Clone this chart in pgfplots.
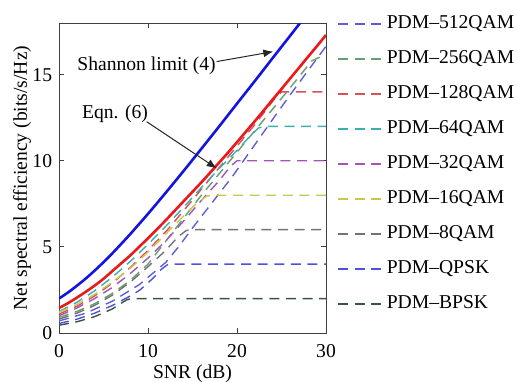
\documentclass[border=0pt]{standalone}
\usepackage{fontspec}
\setmainfont{Liberation Serif}
\usepackage{pgfplots}
\pgfplotsset{compat=1.18}
\usetikzlibrary{arrows.meta}
\definecolor{cA}{RGB}{95,95,210}
\definecolor{cB}{RGB}{100,160,110}
\definecolor{cC}{RGB}{215,80,90}
\definecolor{cD}{RGB}{60,175,175}
\definecolor{cE}{RGB}{160,85,185}
\definecolor{cF}{RGB}{200,200,80}
\definecolor{cG}{RGB}{115,115,115}
\definecolor{cH}{RGB}{80,80,220}
\definecolor{cI}{RGB}{55,85,65}
\definecolor{sblue}{RGB}{20,20,225}
\definecolor{sred}{RGB}{235,25,25}
\begin{document}
\fontsize{9.8}{11.8}\selectfont
\begin{tikzpicture}
\begin{axis}[
 scale only axis, width=133.5pt, height=155pt,
 xmin=0, xmax=30, ymin=0, ymax=18,
 xtick={0,10,20,30}, ytick={0,5,10,15},
 tick align=inside, tick pos=both, major tick length=2.5pt,
 axis line style={black!75},
 every tick/.style={black!75, line width=0.4pt},
 /pgf/number format/assume math mode=true,
 xticklabel style={yshift=-2.5pt},
 xlabel={SNR (dB)},
 ylabel={Net spectral efficiency (bits/s/Hz)},
 every axis x label/.style={at={(axis description cs:0.5,-0.1323)}, anchor=center},
 every axis y label/.style={at={(axis description cs:-0.1386,0.5)}, anchor=center, rotate=90},
 legend style={at={(axis description cs:1,1)}, anchor=north west, xshift=5.5pt, yshift=3.9pt,
   draw=none, fill=none, inner sep=0pt, row sep=9pt, column sep=2pt,
   nodes={inner sep=0pt, text height=6.5pt, text depth=2pt, anchor=west}},
 legend cell align=left,
 legend image code/.code={\draw[#1] (0pt,0pt) -- (22pt,0pt);},
 dsh/.style={line width=0.7pt, dash pattern=on 5pt off 3.3pt},
]
\addplot[dsh, cA] coordinates {(0,0.7) (3,1.15) (6,1.85) (9,2.8) (12,4.1) (13.5,5.05) (15,6.1) (16.5,7.1) (18,8.1) (19.5,9.1) (21,10.2) (22.5,11.3) (24,12.4) (26,13.85) (28,15.25) (30,16.65)};
\addlegendentry{PDM--512QAM}
\addplot[dsh, cB] coordinates {(0,0.9) (2,1.25) (4,1.7) (6,2.3) (8,3.05) (10,4.0) (11.5,5.0) (13,6.0) (16,8.0) (19.2,10) (22.4,12) (25.6,14) (28.4,15.8) (29.2,16) (30,16)};
\addlegendentry{PDM--256QAM}
\addplot[dsh, cC] coordinates {(0,1.1) (2,1.55) (4,2.15) (6,2.9) (8,3.8) (10,4.8) (12.2,6.0) (14,7.1) (16,8.35) (18,9.6) (20,10.85) (22,12.1) (24.3,13.65) (25,14) (30,14)};
\addlegendentry{PDM--128QAM}
\addplot[dsh, cD] coordinates {(0,1.25) (2,1.78) (4,2.45) (6,3.25) (8,4.15) (10,5.15) (12,6.2) (14,7.3) (16,8.45) (18,9.55) (20,10.6) (21.5,11.45) (22.4,11.9) (23.1,12) (30,12)};
\addlegendentry{PDM--64QAM}
\addplot[dsh, cE] coordinates {(0,1.0) (2,1.45) (4,2.0) (6,2.65) (8,3.45) (10,4.35) (12,5.35) (14,6.5) (16,7.7) (18,8.85) (19.3,9.7) (20,10) (30,10)};
\addlegendentry{PDM--32QAM}
\addplot[dsh, cF] coordinates {(0,1.2) (2,1.65) (4,2.25) (6,2.95) (8,3.75) (10,4.7) (12,5.75) (14,6.8) (15.5,7.55) (16.6,7.95) (17.3,8) (30,8)};
\addlegendentry{PDM--16QAM}
\addplot[dsh, cG] coordinates {(0,0.8) (2,1.15) (4,1.6) (6,2.2) (8,2.95) (10,3.85) (12,4.8) (13.4,5.6) (14.3,5.95) (14.8,6) (30,6)};
\addlegendentry{PDM--8QAM}
\addplot[dsh, cH] coordinates {(0,0.55) (2,0.8) (4,1.15) (6,1.6) (8,2.15) (9.1,2.5) (10.5,3.15) (11.5,3.7) (12.2,3.97) (12.7,4) (30,4)};
\addlegendentry{PDM--QPSK}
\addplot[dsh, cI] coordinates {(0,0.45) (2,0.65) (4,0.95) (6,1.4) (7.2,1.8) (7.7,1.95) (8.2,2) (30,2)};
\addlegendentry{PDM--BPSK}
\addplot[forget plot, sred, line width=1.3pt, smooth] coordinates {(0,1.45) (1,1.73) (2,2.05) (3,2.39) (4,2.75) (5,3.15) (6,3.6) (7,4.05) (8,4.5) (9,5.0) (10,5.5) (11,6.02) (12,6.55) (13,7.1) (14,7.65) (15,8.2) (16,8.75) (17,9.32) (18,9.9) (19,10.48) (20,11.08) (21,11.69) (22,12.3) (23,12.92) (24,13.55) (25,14.17) (26,14.8) (27,15.42) (28,16.05) (29,16.67) (30,17.3)};
\addplot[forget plot, sblue, line width=1.3pt, smooth] coordinates {(0,2.00) (1,2.35) (2,2.74) (3,3.16) (4,3.62) (5,4.11) (6,4.63) (7,5.18) (8,5.74) (10,6.92) (12,8.15) (14,9.41) (16,10.70) (18,12.00) (20,13.32) (22,14.63) (24,15.96) (26,17.28) (28,18.61)};
\node[anchor=base west, inner sep=0pt] at (axis cs:2.02,15.27) {Shannon limit (4)};
\node[anchor=base west, inner sep=0pt] at (axis cs:2.55,12.47) {Eqn. (6)};
\draw[-{Latex[length=5pt,width=4pt]}, black!85, line width=0.5pt] (axis cs:17.71,15.76) -- (axis cs:24.08,16.34);
\draw[-{Latex[length=5pt,width=4pt]}, black!85, line width=0.5pt] (axis cs:9.85,12.27) -- (axis cs:17.72,9.56);
\end{axis}
\pgfresetboundingbox
\path[use as bounding box] ([shift={(-29.5pt,-24pt)}]current axis.south west) rectangle ++(258.5pt,190.5pt);
\end{tikzpicture}
\end{document}
